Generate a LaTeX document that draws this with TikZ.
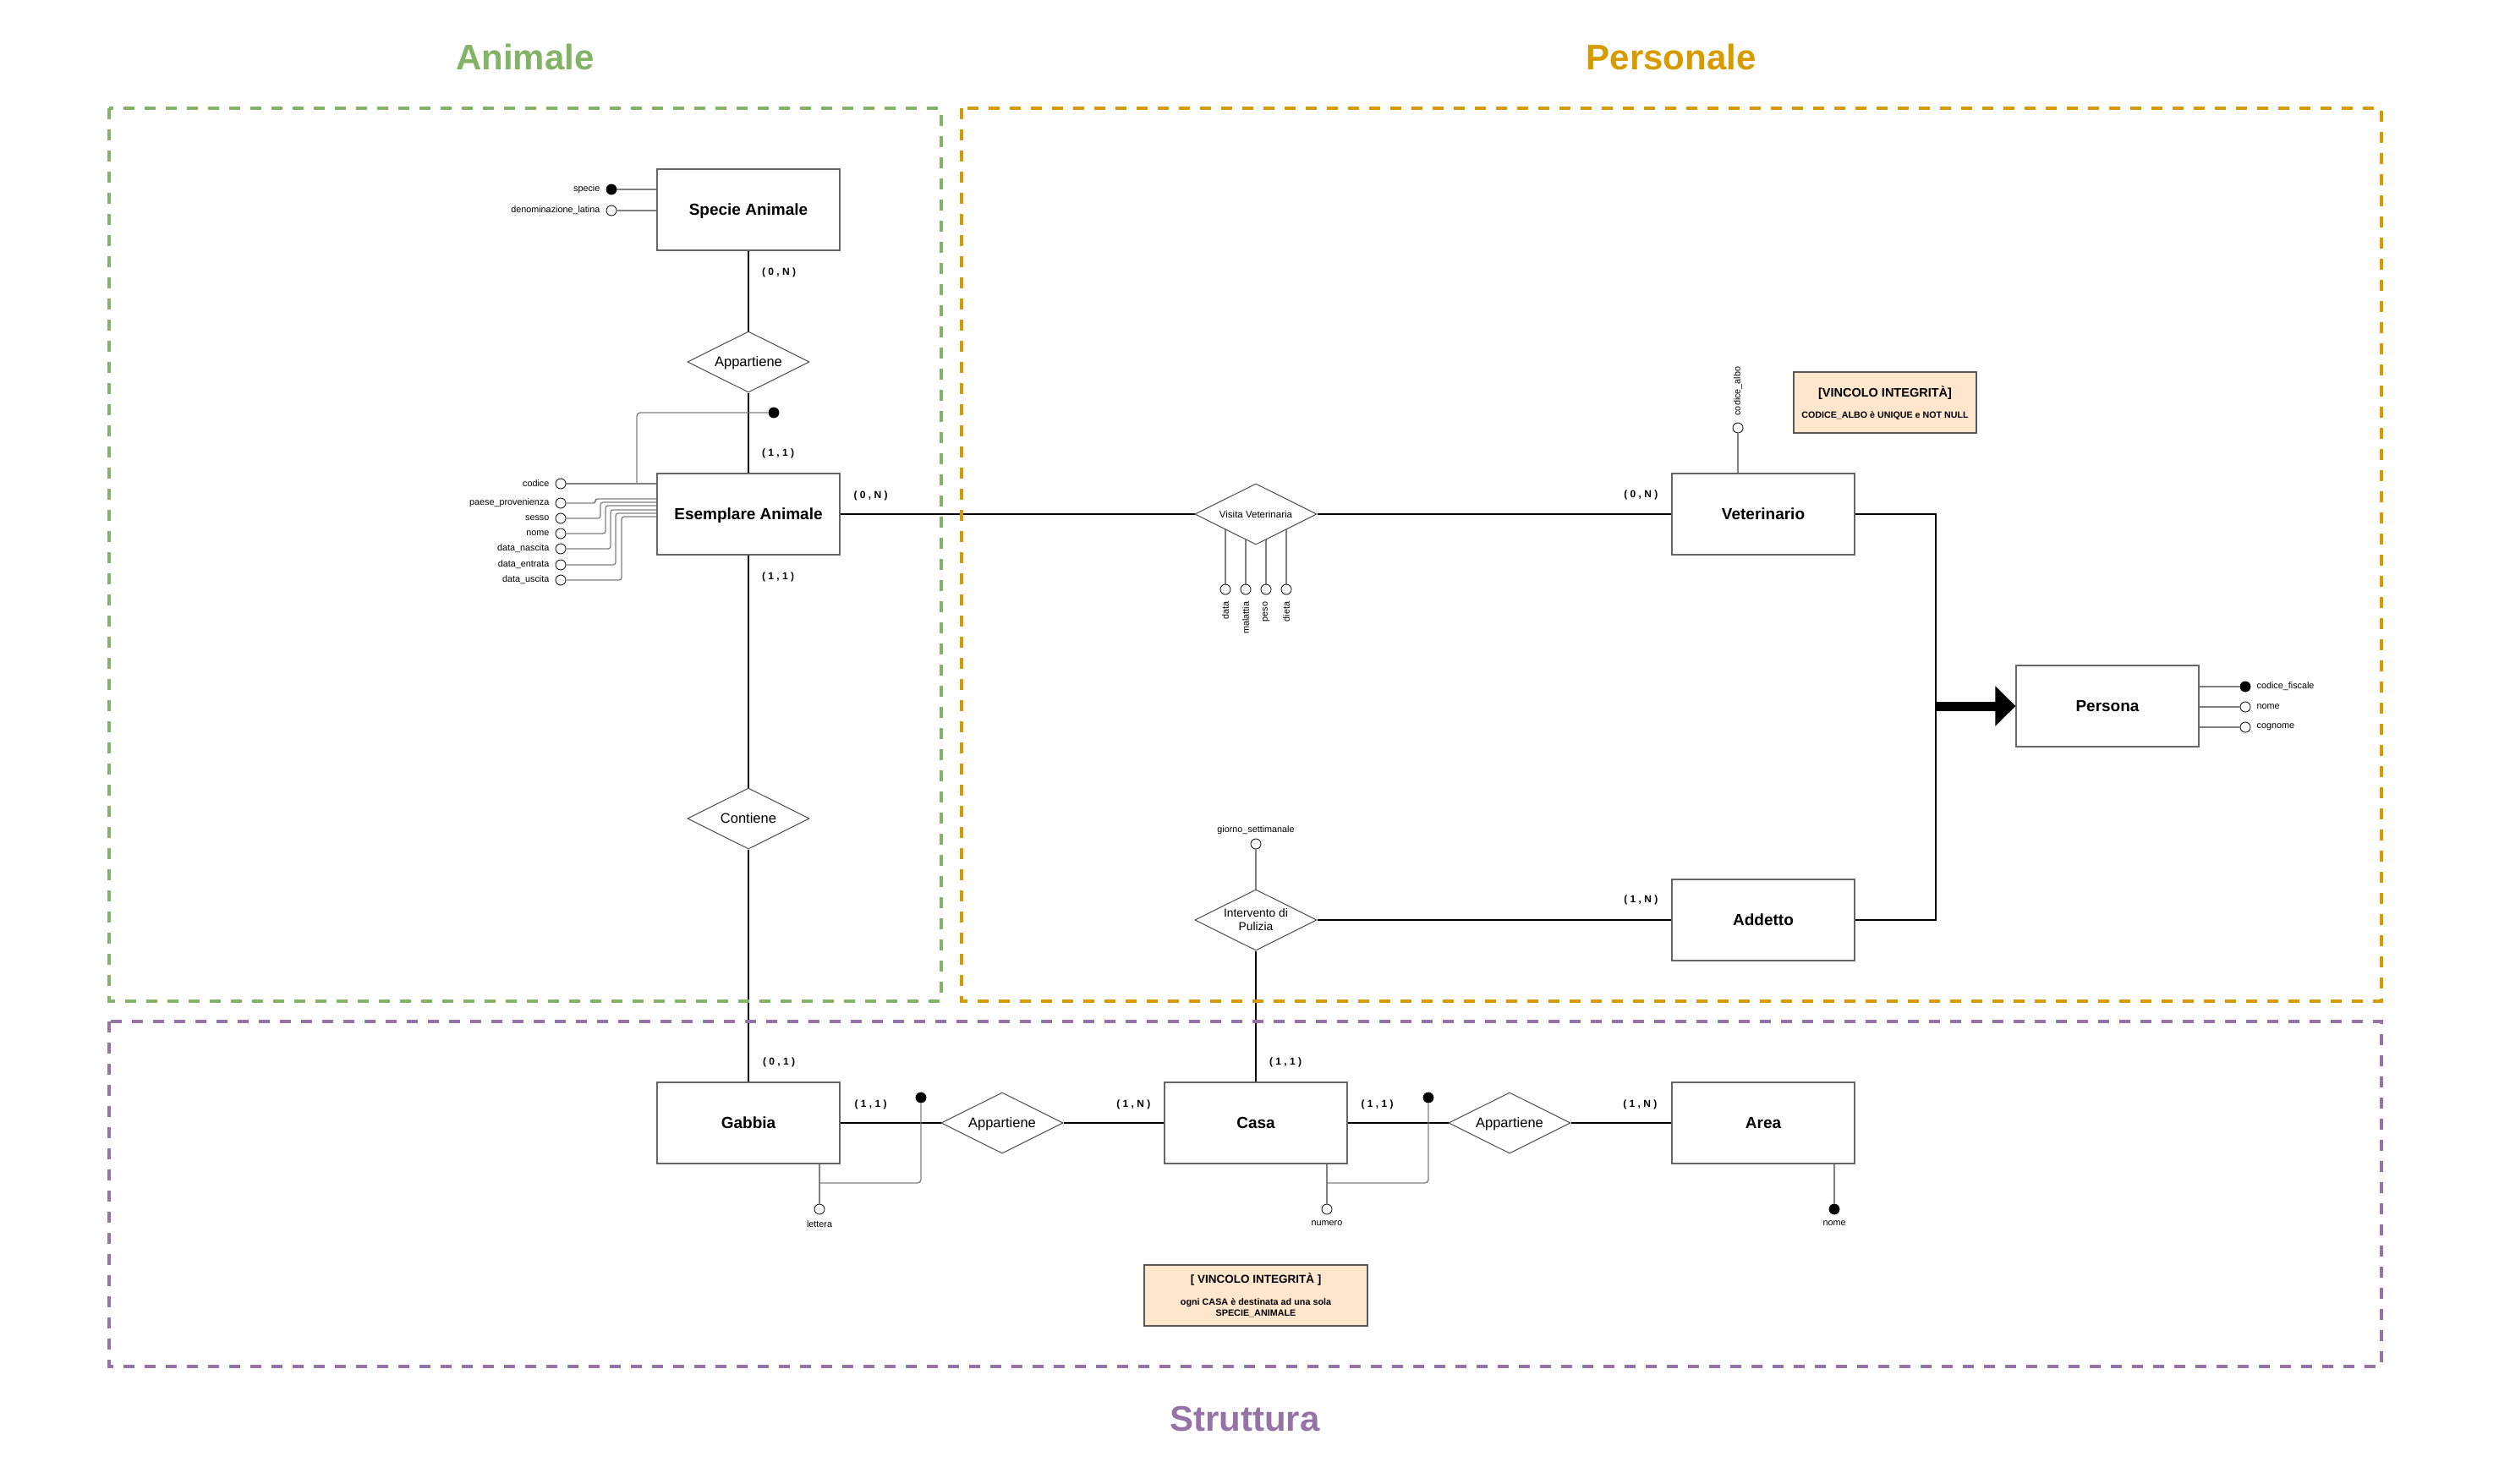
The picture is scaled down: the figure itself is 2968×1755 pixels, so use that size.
\documentclass[tikz,border=0pt]{standalone}
\usepackage{fontspec}
\setmainfont{Liberation Sans}
\usetikzlibrary{positioning,shapes.geometric,arrows.meta,backgrounds}
\definecolor{verde}{HTML}{82B366}
\definecolor{arancio}{HTML}{D79B00}
\definecolor{viola}{HTML}{9673A6}
\definecolor{pesca}{HTML}{FFE6CC}
\tikzset{
    entita/.style={rectangle,draw=black!60,line width=1.3pt,fill=white,minimum width=216pt,minimum height=96pt,text height=13.6pt,text depth=0pt,font=\fontsize{19}{22}\selectfont\bfseries},
    relazione/.style={diamond,aspect=2,draw=black!70,line width=1pt,fill=white,minimum width=144pt,minimum height=72pt,inner sep=0pt,align=center,text height=11.8pt,text depth=0pt,font=\fontsize{16.5}{19}\selectfont},
    attr/.style={circle,draw=black,line width=0.8pt,fill=white,minimum size=12pt,inner sep=0pt},
    chiave/.style={attr,fill=black},
    etichetta/.style={inner sep=0pt,font=\fontsize{10.8}{13}\selectfont},
    card/.style={font=\fontsize{12}{14}\selectfont\bfseries},
    legame/.style={line width=2.4pt},
    filo/.style={draw=black!50,line width=1.3pt},
    gruppo/.style={line width=4pt,dash pattern=on 13pt off 12pt},
    titolo/.style={anchor=base,font=\fontsize{42}{50}\selectfont\bfseries},
    vincolo/.style={rectangle,draw=black!65,line width=1.2pt,fill=pesca}
}
\begin{document}
\begin{tikzpicture}[x=1pt,y=-1pt]
    \useasboundingbox (0,0) rectangle (2968,1755);

    \node[entita] (specie) at (885,248) {Specie Animale};
    \node[relazione] (app-specie) at (885,428) {Appartiene};
    \node[entita] (esemplare) at (885,608) {Esemplare Animale};
    \node[relazione] (contiene) at (885,968) {Contiene};
    \node[entita] (gabbia) at (885,1328) {Gabbia};
    \node[relazione] (app-gabbia) at (1185,1328) {Appartiene};
    \node[entita] (casa) at (1485,1328) {Casa};
    \node[relazione] (app-casa) at (1785,1328) {Appartiene};
    \node[entita] (area) at (2085,1328) {Area};
    \node[relazione,text height=8.2pt,font=\fontsize{11.5}{14}\selectfont] (visita) at (1485,608) {Visita Veterinaria};
    \node[entita] (veterinario) at (2085,608) {Veterinario};
    \node[relazione,text height=,text depth=,font=\fontsize{13.8}{16}\selectfont] (intervento) at (1485,1088) {Intervento di\\Pulizia};
    \node[entita] (addetto) at (2085,1088) {Addetto};
    \node[entita] (persona) at (2492,835) {Persona};
    \coordinate (ramo) at (2289,835);

    \draw[legame] (specie) -- (app-specie) -- (esemplare) -- (contiene) -- (gabbia);
    \draw[legame] (esemplare) -- (visita) -- (veterinario);
    \draw[legame] (gabbia) -- (app-gabbia) -- (casa) -- (app-casa) -- (area);
    \draw[legame] (casa) -- (intervento) -- (addetto);
    \draw[legame] (veterinario.east) -| (ramo) |- (addetto.east);
    \draw[line width=11pt,-{Triangle[length=24pt,width=46pt]}] (ramo) -- (persona);

    \node[card] at ([shift={(36,26)}]specie.south) {( 0 , N )};
    \node[card] at ([shift={(35,-23)}]esemplare.north) {( 1 , 1 )};
    \node[card] at ([shift={(36,-22)}]esemplare.east) {( 0 , N )};
    \node[card] at ([shift={(35,26)}]esemplare.south) {( 1 , 1 )};
    \node[card] at ([shift={(-36,-23)}]veterinario.west) {( 0 , N )};
    \node[card] at ([shift={(-36,-24)}]addetto.west) {( 1 , N )};
    \node[card] at ([shift={(36,-23)}]gabbia.north) {( 0 , 1 )};
    \node[card] at ([shift={(35,-23)}]casa.north) {( 1 , 1 )};
    \node[card] at ([shift={(36,-22)}]gabbia.east) {( 1 , 1 )};
    \node[card] at ([shift={(-36,-22)}]casa.west) {( 1 , N )};
    \node[card] at ([shift={(35,-22)}]casa.east) {( 1 , 1 )};
    \node[card] at ([shift={(-37,-22)}]area.west) {( 1 , N )};

    \node[chiave] (specie-id) at (723,224) {};
    \node[etichetta,left=7pt of specie-id] {specie};
    \draw[filo] (specie-id) -- (specie-id -| specie.west);
    \node[attr] (denominazione) at (723,249) {};
    \node[etichetta,left=7pt of denominazione] {denominazione\_latina};
    \draw[filo] (denominazione) -- (denominazione -| specie.west);

    \node[attr] (codice) at (663,572) {};
    \node[etichetta,left=7pt of codice] {codice};
    \draw[filo] (codice) -- (codice -| esemplare.west);
    \foreach \id/\testo/\y/\xg/\ye in {paese/paese\_provenienza/595/704/590,sesso/sesso/613/710/594,e-nome/nome/631/716/598,nascita/data\_nascita/649/722/603,entrata/data\_entrata/668/728/607,uscita/data\_uscita/686/735/611}{
        \node[attr] (\id) at (663,\y) {};
        \node[etichetta,left=7pt of \id] {\testo};
        \draw[filo,rounded corners=3pt] (\id) -| (\xg,\ye) -- (esemplare.west |- 0,\ye);
    }
    \node[chiave] (esemplare-id) at (915,488) {};
    \coordinate (esemplare-giunto) at (753,572);
    \draw[filo,rounded corners=4pt] (esemplare-id) -| (esemplare-giunto);

    \foreach \x/\testo in {1449/data,1473/malattia,1497/peso,1521/dieta}{
        \node[attr] (visita-\testo) at (\x,697) {};
        \node[etichetta,rotate=90,anchor=east] at ([yshift=-8pt]visita-\testo.south) {\testo};
        \begin{scope}[on background layer]
            \draw[filo] (visita-\testo) -- (visita-\testo |- visita.center);
        \end{scope}
    }

    \node[attr] (albo) at (2055,506) {};
    \node[etichetta,rotate=90,anchor=west] at ([yshift=8pt]albo.north) {codice\_albo};
    \draw[filo] (albo) -- (albo |- veterinario.north);

    \node[attr] (giorno) at (1485,998) {};
    \node[etichetta,above=5pt of giorno] {giorno\_settimanale};
    \draw[filo] (giorno) -- (intervento);

    \foreach \id/\testo/\y/\riemp in {cf/codice\_fiscale/812/black,p-nome/nome/836/white,cognome/cognome/860/white}{
        \node[attr,fill=\riemp] (\id) at (2655,\y) {};
        \node[etichetta,right=7pt of \id] {\testo};
        \draw[filo] (persona.east |- \id) -- (\id);
    }

    \node[attr] (lettera) at (969,1430) {};
    \node[etichetta,below=7pt of lettera] {lettera};
    \draw[filo] (gabbia.south -| lettera) -- (lettera);
    \node[chiave] (gabbia-id) at (1089,1298) {};
    \coordinate (gabbia-giunto) at (969,1399);
    \draw[filo,rounded corners=4pt] (gabbia-id) |- (gabbia-giunto);

    \node[attr] (numero) at (1569,1430) {};
    \node[etichetta,below=7pt of numero] {numero};
    \draw[filo] (casa.south -| numero) -- (numero);
    \node[chiave] (casa-id) at (1689,1298) {};
    \coordinate (casa-giunto) at (1569,1399);
    \draw[filo,rounded corners=4pt] (casa-id) |- (casa-giunto);

    \node[chiave] (area-id) at (2169,1430) {};
    \node[etichetta,below=7pt of area-id] {nome};
    \draw[filo] (area.south -| area-id) -- (area-id);

    \node[vincolo,minimum width=216pt,minimum height=72pt] (vincolo-albo) at (2229,476) {};
    \node[font=\fontsize{14.5}{17}\selectfont\bfseries] at ([yshift=11pt]vincolo-albo.center) {[VINCOLO INTEGRITÀ]};
    \node[font=\fontsize{10.7}{13}\selectfont\bfseries] at ([yshift=-16pt]vincolo-albo.center) {CODICE\_ALBO è UNIQUE e NOT NULL};

    \node[vincolo,minimum width=264pt,minimum height=72pt] (vincolo-casa) at (1485,1532) {};
    \node[font=\fontsize{13.5}{16}\selectfont\bfseries] at ([yshift=19pt]vincolo-casa.center) {[ VINCOLO INTEGRITÀ ]};
    \node[align=center,font=\fontsize{10.8}{13}\selectfont\bfseries] at ([yshift=-14.5pt]vincolo-casa.center) {ogni CASA è destinata ad una sola\\SPECIE\_ANIMALE};

    \draw[gruppo,verde] (129,128) rectangle (1113,1184);
    \draw[gruppo,arancio] (1137,128) rectangle (2816,1184);
    \draw[gruppo,viola] (129,1208) rectangle (2816,1616);
    \node[titolo,verde] at (621,83) {Animale};
    \node[titolo,arancio] at (1976,83) {Personale};
    \node[titolo,viola] at (1472,1692) {Struttura};
\end{tikzpicture}
\end{document}
